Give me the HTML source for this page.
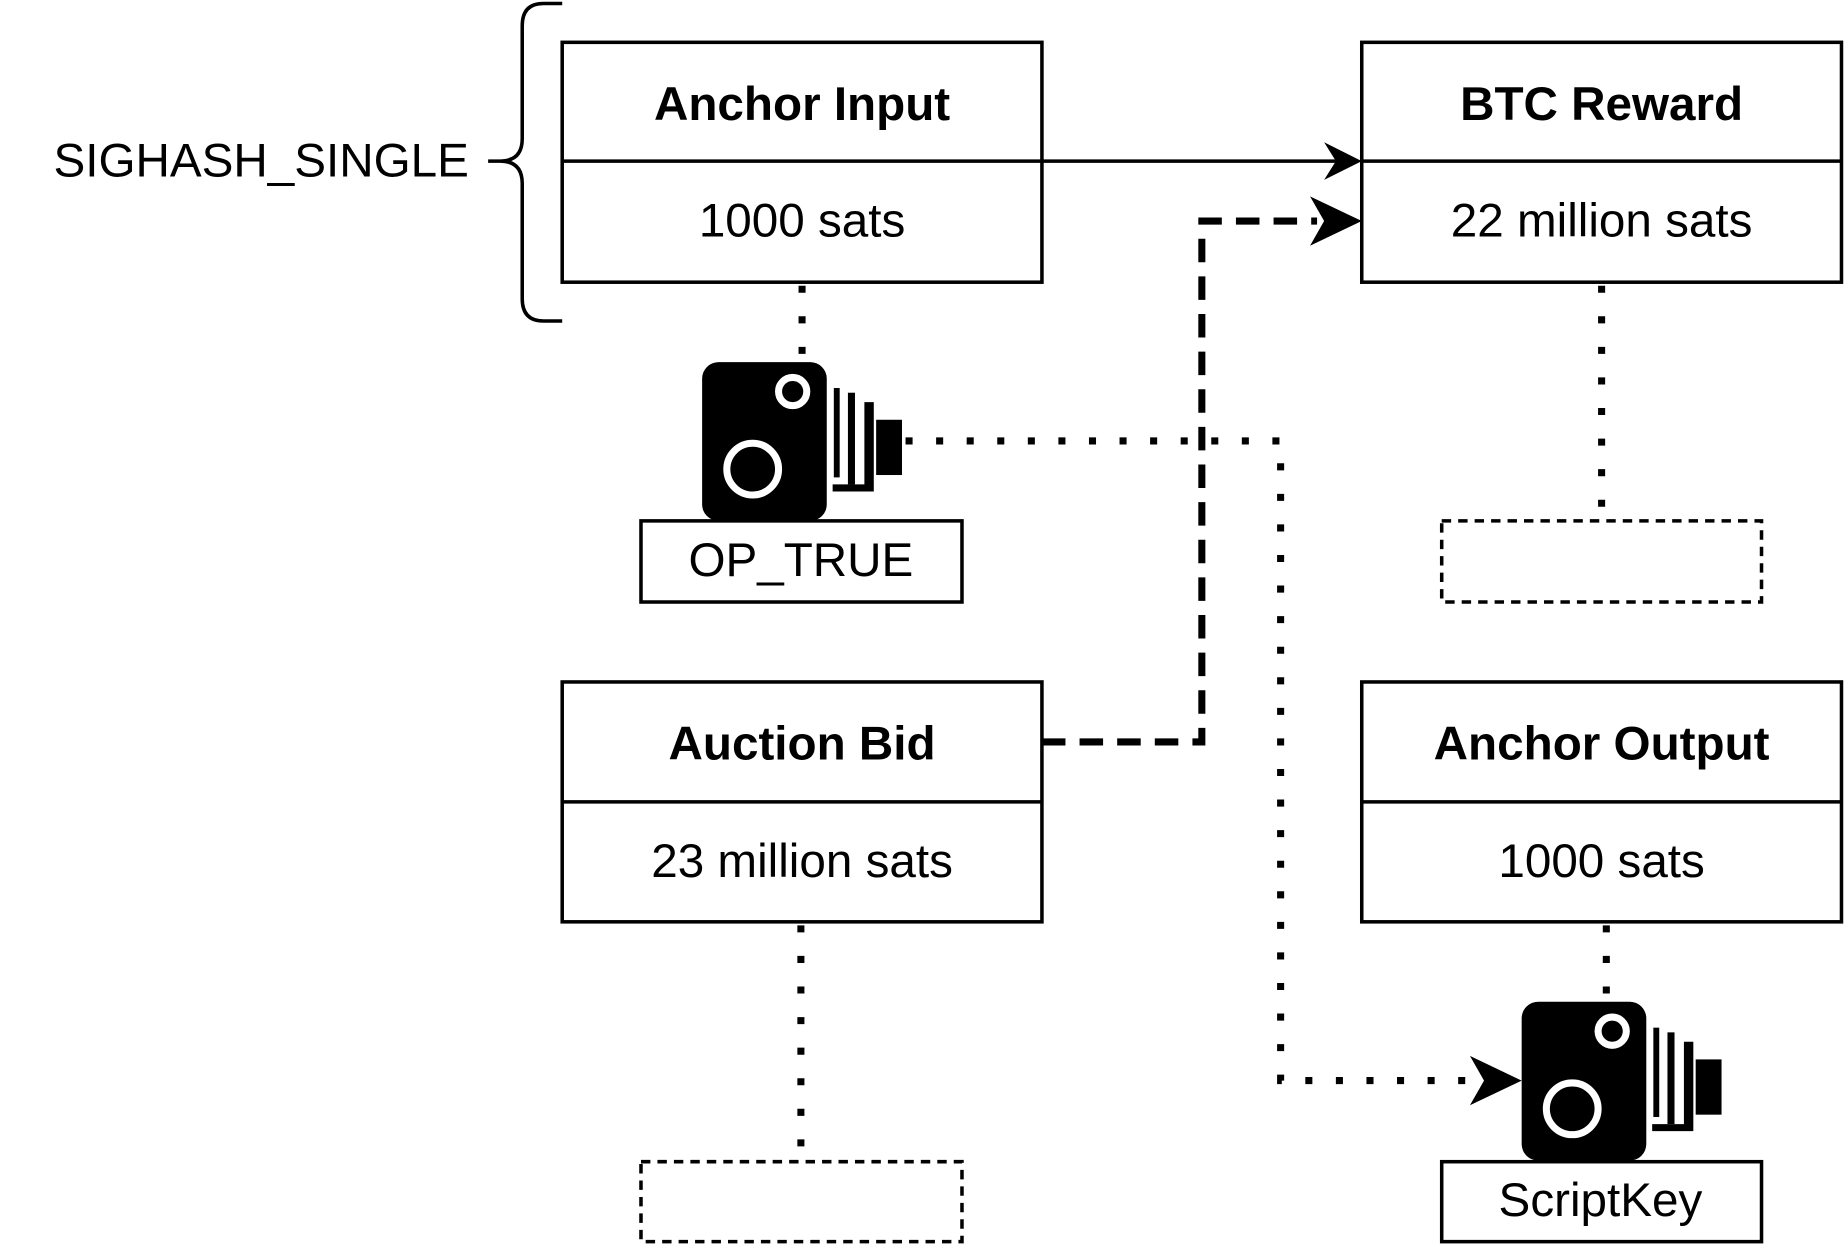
<!DOCTYPE html>
<html><head><meta charset="utf-8"><style>
html,body{margin:0;padding:0;background:#fff;}
svg{display:block;}
text{font-family:"Liberation Sans",sans-serif;fill:#000;}
</style></head><body>
<svg width="1844" height="1244" viewBox="0 0 1568 1058" xmlns="http://www.w3.org/2000/svg">
<defs>
<g id="cam">
  <rect x="597" y="308" width="106" height="135" rx="14" fill="#000"/>
  <circle cx="640" cy="399" r="22" fill="none" stroke="#fff" stroke-width="6"/>
  <circle cx="674" cy="333" r="12" fill="none" stroke="#fff" stroke-width="6"/>
  <rect x="709" y="330" width="5" height="76" fill="#000"/>
  <rect x="721" y="334" width="6" height="78" fill="#000"/>
  <path d="M735 342 h8 v76 h-35 v-6 h27 z" fill="#000"/>
  <rect x="745" y="357" width="22" height="47" fill="#000"/>
</g>
</defs>
<path d="M478 3 H462 Q444 3 444 22 V118 Q444 137 425 137 H415 M425 137 Q444 137 444 156 V254 Q444 273 462 273 H478" fill="none" stroke="#000" stroke-width="3"/>
<text x="222" y="150" font-size="40.5" text-anchor="middle">SIGHASH_SINGLE</text>

<g fill="#fff" stroke="#000" stroke-width="3">
<rect x="478" y="36" width="408" height="204"/><line x1="478" y1="137" x2="886" y2="137"/>
<rect x="1158" y="36" width="408" height="204"/><line x1="1158" y1="137" x2="1566" y2="137"/>
<rect x="478" y="580" width="408" height="204"/><line x1="478" y1="682" x2="886" y2="682"/>
<rect x="1158" y="580" width="408" height="204"/><line x1="1158" y1="682" x2="1566" y2="682"/>
<rect x="545" y="443" width="273" height="69"/>
<rect x="1226" y="988" width="272" height="68"/>
</g>
<g fill="none" stroke="#000" stroke-width="3" stroke-dasharray="8 6">
<rect x="1226" y="443" width="272" height="69"/>
<rect x="545" y="988" width="273" height="68"/>
</g>
<g font-size="40.5" text-anchor="middle">
<text x="682" y="102" font-weight="bold">Anchor Input</text>
<text x="682" y="201">1000 sats</text>
<text x="1362" y="102" font-weight="bold">BTC Reward</text>
<text x="1362" y="201">22 million sats</text>
<text x="682" y="646" font-weight="bold">Auction Bid</text>
<text x="682" y="746">23 million sats</text>
<text x="1362" y="646" font-weight="bold">Anchor Output</text>
<text x="1362" y="746">1000 sats</text>
<text x="681" y="490">OP_TRUE</text>
<text x="1361" y="1034">ScriptKey</text>
</g>

<line x1="886" y1="137" x2="1140" y2="137" stroke="#000" stroke-width="3"/>
<path d="M1158 137 L1126 121 L1136 137 L1126 153 Z" fill="#000"/>

<path d="M886 631 H1022 V188 H1120" fill="none" stroke="#000" stroke-width="6" stroke-dasharray="20 12"/>
<path d="M1158 188 L1114 167 L1126 188 L1114 209 Z" fill="#000"/>

<g fill="none" stroke="#000" stroke-width="6" stroke-dasharray="6 20">
<path d="M682 243 V308"/>
<path d="M1362 243 V443"/>
<path d="M681 787 V988"/>
<path d="M1366 787 V852"/>
<path d="M770 375 H1089 V919 H1255"/>
</g>
<path d="M1294 919 L1250 898 L1262 919 L1250 940 Z" fill="#000"/>

<use href="#cam"/>
<use href="#cam" transform="translate(697 544)"/>
</svg>
</body></html>
